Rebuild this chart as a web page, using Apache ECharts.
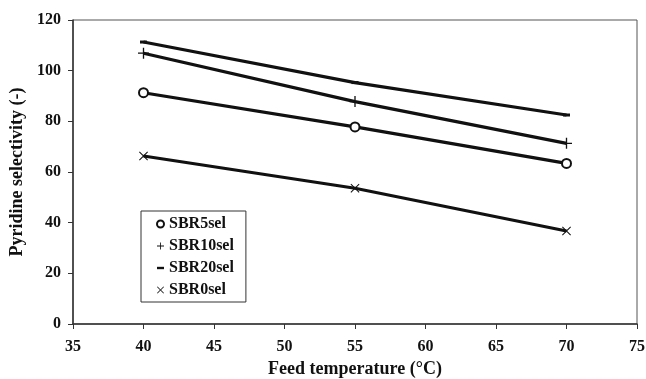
<!DOCTYPE html>
<html><head><meta charset="utf-8">
<script src="https://cdn.jsdelivr.net/npm/echarts@6/dist/echarts.min.js"></script>
<style>html,body{margin:0;padding:0;background:#fff}#c{width:646px;height:379px}</style>
</head><body><div id="c"></div>
<script>
const temps = [40, 55, 70];
const sbr5 = [91.3, 77.8, 63.4];
const sbr10 = [106.9, 87.8, 71.3];
const sbr20 = [111.3, 95.3, 82.5];
const sbr0 = [66.3, 53.6, 36.7];
const seriesNames = ['SBR5sel', 'SBR10sel', 'SBR20sel', 'SBR0sel'];

const FONT = 'Liberation Serif';
const plusPath = 'path://M4.4,0H5.6V4.4H10V5.6H5.6V10H4.4V5.6H0V4.4H4.4Z';
const xPath = 'path://M0.8,0L5,4.2L9.2,0L10,0.8L5.8,5L10,9.2L9.2,10L5,5.8L0.8,10L0,9.2L4.2,5L0,0.8Z';
const pairs = v => temps.map((t, i) => [t, v[i]]);

const chart = echarts.init(document.getElementById('c'), null, {renderer: 'canvas'});
const mk = (name, data, symbol, size, itemStyle) => ({
  name, type: 'line', data: pairs(data), symbol, symbolSize: size,
  lineStyle: {color: '#111', width: 3.2},
  itemStyle,
  emphasis: {disabled: true}, z: 2
});
chart.setOption({
  animation: false,
  backgroundColor: '#fff',
  textStyle: {fontFamily: FONT},
  grid: {left: 73, right: 9, top: 20, bottom: 55, show: true, borderColor: '#555', borderWidth: 1,
         containLabel: false, outerBoundsMode: 'none'},
  xAxis: {
    type: 'value', min: 35, max: 75, interval: 5,
    name: 'Feed temperature (°C)', nameLocation: 'middle', nameGap: 35,
    nameTextStyle: {fontFamily: FONT, fontWeight: 'bold', fontSize: 18, color: '#111'},
    axisLine: {show: true, onZero: false, lineStyle: {color: '#333', width: 1.5}},
    axisTick: {show: true, length: 5, lineStyle: {color: '#333'}},
    axisLabel: {fontFamily: FONT, fontWeight: 'bold', fontSize: 16, color: '#111', margin: 15},
    splitLine: {show: false}
  },
  yAxis: {
    type: 'value', min: 0, max: 120, interval: 20,
    name: 'Pyridine selectivity (-)', nameLocation: 'middle', nameGap: 47,
    nameTextStyle: {fontFamily: FONT, fontWeight: 'bold', fontSize: 18, color: '#111'},
    axisLine: {show: true, lineStyle: {color: '#333', width: 1.5}},
    axisTick: {show: true, length: 5, lineStyle: {color: '#333'}},
    axisLabel: {fontFamily: FONT, fontWeight: 'bold', fontSize: 16, color: '#111', margin: 12},
    splitLine: {show: false}
  },
  legend: {
    orient: 'vertical', left: 141, top: 211,
    padding: [5, 12, 4, 15], itemGap: 6, itemWidth: 7, itemHeight: 7,
    borderColor: '#333', borderWidth: 1, backgroundColor: '#fff',
    textStyle: {fontFamily: FONT, fontWeight: 'bold', fontSize: 16, lineHeight: 16, color: '#111'},
    data: [
      {name: seriesNames[0], icon: 'emptyCircle', itemStyle: {color: '#111', borderColor: '#111', borderWidth: 1}},
      {name: seriesNames[1], icon: plusPath, itemStyle: {color: '#111', borderWidth: 0}},
      {name: seriesNames[2], icon: 'path://M0,3.3H10V6.7H0Z', itemStyle: {color: '#111', borderWidth: 0}},
      {name: seriesNames[3], icon: xPath, itemStyle: {color: '#111', borderWidth: 0}}
    ]
  },
  series: [
    mk(seriesNames[0], sbr5, 'emptyCircle', 9, {color: '#111', borderColor: '#111', borderWidth: 1.2}),
    mk(seriesNames[1], sbr10, plusPath, 11, {color: '#111', borderWidth: 0}),
    mk(seriesNames[2], sbr20, 'rect', [7, 3], {color: '#111', borderWidth: 0}),
    mk(seriesNames[3], sbr0, xPath, 9, {color: '#111', borderWidth: 0})
  ]
});
</script></body></html>
